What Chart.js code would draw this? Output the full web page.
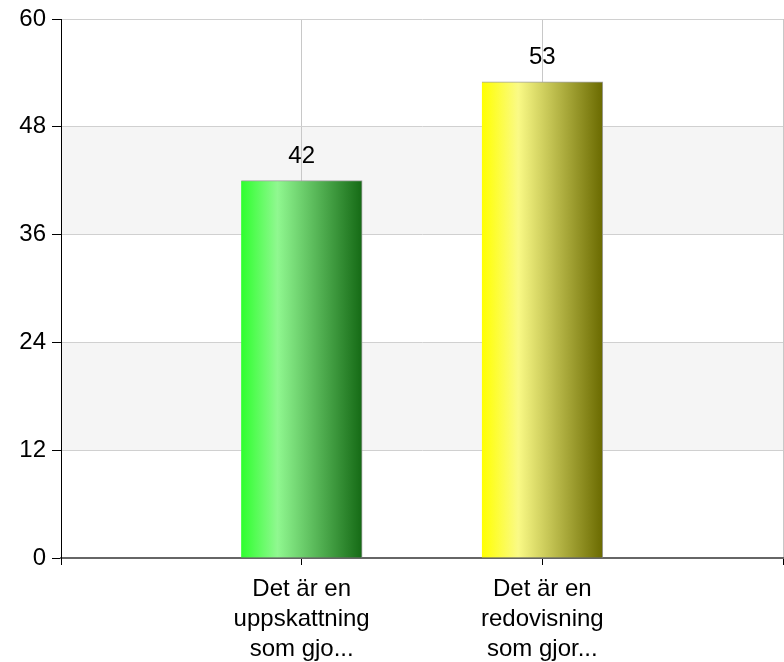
<!DOCTYPE html>
<html>
<head>
<meta charset="utf-8">
<script src="https://cdn.jsdelivr.net/npm/chart.js@4/dist/chart.umd.min.js"></script>
<style>
html,body{margin:0;padding:0;background:#fff;}
#wrap{width:784px;height:662px;position:relative;}
</style>
</head>
<body>
<div id="wrap"><canvas id="c" width="784" height="662"></canvas></div>
<script>
const categories = ['', ['Det är en','uppskattning','som gjo...'], ['Det är en','redovisning','som gjor...'], ''];
const values = [null, 42, 53, null];
const yTicks = [0, 12, 24, 36, 48, 60];
const bandRanges = [[12, 24], [36, 48]];
const gradients = [null,
  ['#2eff2e', '#90f890', '#156a15'],
  ['#ffff00', '#fafa86', '#6a6a00'],
  null];

const FONT = '"Liberation Sans", Arial, sans-serif';
const BAR_W = 121;

const bandsPlugin = {
  id: 'bands',
  beforeDraw(chart) {
    const {ctx, chartArea, scales: {y}} = chart;
    ctx.save();
    ctx.fillStyle = '#f5f5f5';
    bandRanges.forEach(([a, b]) => {
      const y1 = y.getPixelForValue(b), y2 = y.getPixelForValue(a);
      ctx.fillRect(chartArea.left, y1, chartArea.right - chartArea.left, y2 - y1);
    });
    ctx.restore();
  }
};

function barFill(c) {
  const chart = c.chart;
  const g = gradients[c.dataIndex];
  const xs = chart.scales && chart.scales.x;
  if (!g || !xs) return '#888';
  const cx = xs.getPixelForValue(c.dataIndex);
  const lg = chart.ctx.createLinearGradient(cx - BAR_W / 2, 0, cx + BAR_W / 2, 0);
  lg.addColorStop(0, g[0]);
  lg.addColorStop(0.3, g[1]);
  lg.addColorStop(1, g[2]);
  return lg;
}

const labelPlugin = {
  id: 'vlabels',
  afterDatasetsDraw(chart) {
    const {ctx} = chart;
    const meta = chart.getDatasetMeta(0);
    ctx.save();
    ctx.font = '24px ' + FONT;
    ctx.fillStyle = '#000';
    ctx.textAlign = 'center';
    ctx.textBaseline = 'alphabetic';
    meta.data.forEach((el, i) => {
      if (values[i] == null) return;
      ctx.fillText(String(values[i]), el.x, el.y - 18);
    });
    ctx.restore();
  }
};

new Chart(document.getElementById('c'), {
  type: 'bar',
  data: {
    labels: categories,
    datasets: [{
      data: values,
      barThickness: BAR_W,
      borderColor: '#a0a0a0',
      borderWidth: {top: 1, right: 1, left: 0, bottom: 0},
      borderSkipped: false,
      backgroundColor: barFill
    }]
  },
  options: {
    responsive: false,
    animation: false,
    devicePixelRatio: 1,
    layout: {padding: {top: 19, right: 1, left: 0, bottom: 0}},
    plugins: {legend: {display: false}, tooltip: {enabled: false}},
    scales: {
      x: {
        offset: false,
        grid: {offset: false, color: '#c8c8c8', lineWidth: 1, tickColor: '#000', tickLength: 7, drawOnChartArea: true},
        border: {color: '#666', width: 2},
        ticks: {color: '#000', font: {family: FONT, size: 24, lineHeight: 1.25}, maxRotation: 0, autoSkip: false, padding: 9},
        afterFit(s) { s.height = 104; s.paddingLeft = 0; s.paddingRight = 0; }
      },
      y: {
        min: 0, max: 60,
        afterBuildTicks(s) { s.ticks = yTicks.map(v => ({value: v})); },
        grid: {color: '#d0d0d0', lineWidth: 1, tickColor: '#000', tickLength: 9},
        border: {color: '#000', width: 1},
        ticks: {color: '#000', font: {family: FONT, size: 24}, padding: 6},
        afterFit(s) { s.width = 61; s.paddingTop = 0; s.paddingBottom = 0; }
      }
    }
  },
  plugins: [bandsPlugin, labelPlugin]
});
</script>
</body>
</html>
